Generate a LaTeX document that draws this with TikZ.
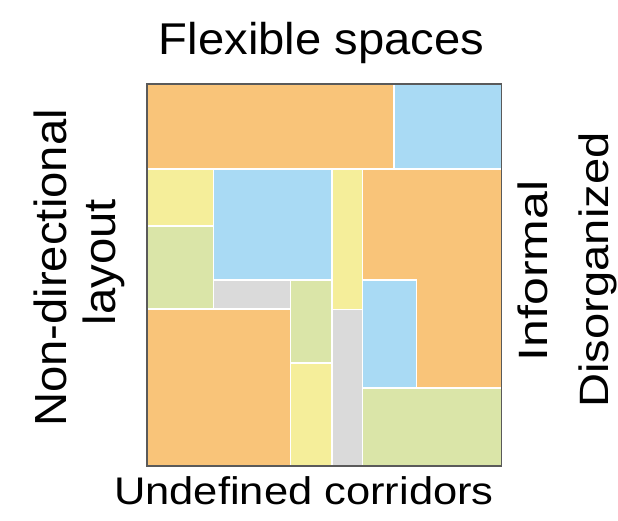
\documentclass[tikz,border=0pt]{standalone}
\usepackage{fontspec}
\usepackage{graphicx}
\setmainfont{Liberation Sans}
\definecolor{corange}{HTML}{F9C479}
\definecolor{cblue}{HTML}{A9DAF4}
\definecolor{cyellow}{HTML}{F5EE9A}
\definecolor{cgreen}{HTML}{DAE5A8}
\definecolor{cgray}{HTML}{DADADA}
\definecolor{cframe}{HTML}{5A5A5A}
\tikzset{
  room/.style={draw=white, line width=1.3pt},
  lbl/.style={anchor=base, inner sep=0pt, text=black},
}
\begin{document}
\begin{tikzpicture}[x=1pt,y=-1pt]
\useasboundingbox[fill=white] (0,0) rectangle (618,520);
% rooms
\path[room, fill=corange] (147,84) rectangle (394,169);
\path[room, fill=cblue] (394,84) rectangle (501.5,169);
\path[room, fill=cyellow] (147,169) rectangle (213.5,226);
\path[room, fill=cgreen] (147,226) rectangle (213.5,309);
\path[room, fill=cblue] (213.5,169) rectangle (332,280);
\path[room, fill=cyellow] (332,169) rectangle (362.5,309.5);
\path[room, fill=corange] (362.5,169) -- (501.5,169) -- (501.5,388) -- (416.5,388) -- (416.5,280) -- (362.5,280) -- cycle;
\path[room, fill=cgray] (213.5,280) rectangle (290.5,309.5);
\path[room, fill=cgreen] (290.5,280) rectangle (332,363);
\path[room, fill=corange] (147,309) rectangle (290.5,466);
\path[room, fill=cyellow] (290.5,363) rectangle (332,466);
\path[room, fill=cgray] (332,309.5) rectangle (362.5,466);
\path[room, fill=cblue] (362.5,280) rectangle (416.5,388);
\path[room, fill=cgreen] (362.5,388) rectangle (501.5,466);
% frame
\draw[cframe, line width=1.1pt] (147,84) rectangle (501.5,466);
% labels
\node[lbl, font=\fontsize{44.5}{46}\selectfont] (top) at (321.5,54.5) {\scalebox{1.06}[1]{Flexible spaces}};
\node[lbl, font=\fontsize{38.5}{40}\selectfont] (bottom) at (304,504) {\scalebox{1.13}[1]{Undefined corridors}};
\node[lbl, rotate=90, font=\fontsize{45}{47}\selectfont] (left1) at (66,268) {\scalebox{1.05}[1]{Non-directional}};
\node[lbl, rotate=90, font=\fontsize{45}{47}\selectfont] (left2) at (115,262) {\scalebox{1.05}[1]{layout}};
\node[lbl, rotate=90, font=\fontsize{41}{43}\selectfont] (right1) at (547,271) {\scalebox{1.22}[1]{Informal}};
\node[lbl, rotate=90, font=\fontsize{41}{43}\selectfont] (right2) at (608,270) {\scalebox{1.15}[1]{Disorganized}};
\end{tikzpicture}
\end{document}
